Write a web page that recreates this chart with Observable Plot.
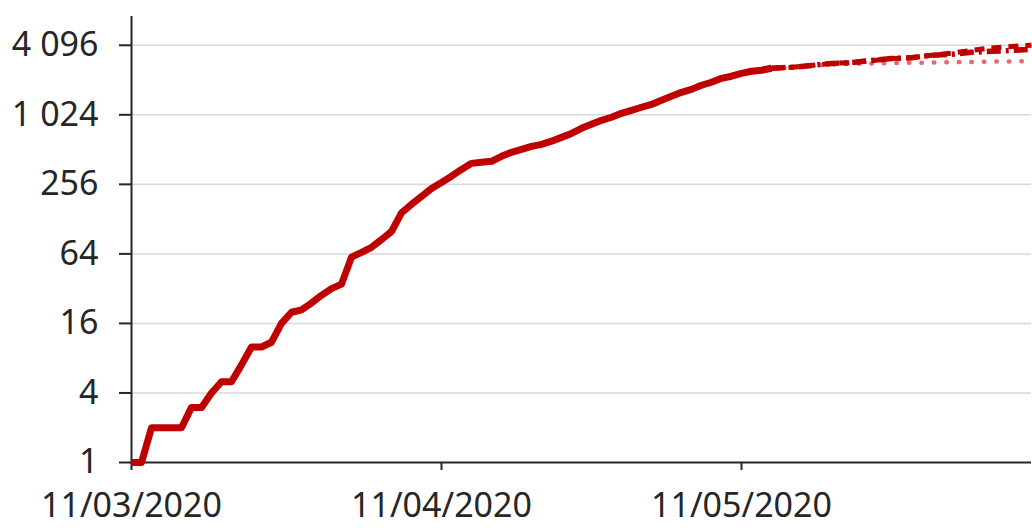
<!DOCTYPE html>
<html>
<head>
<meta charset="utf-8">
<script src="https://cdn.jsdelivr.net/npm/d3@7"></script>
<script src="https://cdn.jsdelivr.net/npm/@observablehq/plot@0.6"></script>
<style>
  html, body { margin: 0; padding: 0; background: #fff; }
  #chart { width: 1032px; height: 530px; }
</style>
</head>
<body>
<div id="chart"></div>
<script>
// ---- data ----
const startDate = "2020-03-11";
const endDate = "2020-06-09";
// observed cumulative values, one per day starting at startDate
const observed = [1, 1, 2, 2, 2, 2, 3, 3, 4, 5, 5, 7, 10, 10, 11, 16, 20, 21, 24, 28,
  32, 35, 60, 66, 73, 85, 100, 145, 172, 201, 236, 266, 301, 345, 389, 397, 405, 448, 485, 515,
  545, 568, 605, 653, 707, 782, 848, 917, 975, 1055, 1120, 1190, 1260, 1370, 1480, 1605, 1700, 1845, 1960, 2120,
  2210, 2340, 2440, 2490, 2590];
// projections: day offsets from startDate
const projDays = [64, 66, 68, 70, 72, 74, 76, 78, 80, 82, 84, 86, 88, 90];
const projMid  = [2590, 2640, 2740, 2850, 2900, 3020, 3140, 3200, 3360, 3420, 3560, 3630, 3700, 3780];
const projHigh = [2590, 2640, 2740, 2850, 2900, 3020, 3140, 3200, 3360, 3500, 3700, 3880, 4000, 4100];
const projLow  = [2590, 2640, 2740, 2790, 2830, 2850, 2870, 2890, 2900, 2920, 2940, 2960, 2970, 2990];
// axis ticks
const xTicks = ["2020-03-11", "2020-04-11", "2020-05-11"];
const yTicks = [1, 4, 16, 64, 256, 1024, 4096];

// ---- build ----
const parse = d3.utcParse("%Y-%m-%d");
const t0 = parse(startDate);
const obsData = observed.map((v, i) => ({date: d3.utcDay.offset(t0, i), value: v}));
const mk = (arr) => projDays.map((d, i) => ({date: d3.utcDay.offset(t0, d), value: arr[i]}));
const locale = d3.formatLocale({decimal: ",", thousands: "\u00a0", grouping: [3], currency: ["", " €"]});
const yFmt = locale.format(",");
const xFmt = d3.utcFormat("%d/%m/%Y");
const font = "Noto Sans";
const red = "#c00000";
const axisColor = "#262626";

const chart = Plot.plot({
  width: 1032,
  height: 530,
  marginLeft: 131,
  marginRight: 1,
  marginTop: 10,
  marginBottom: 68,
  style: {fontFamily: font, fontSize: "34px", color: "#262626", background: "#fff"},
  x: {type: "utc", domain: [parse(startDate), parse(endDate)]},
  y: {type: "log", base: 2, domain: [1, 8192]},
  marks: [
    Plot.ruleY(yTicks.slice(1), {stroke: "#d9d9d9", strokeWidth: 1.5}),
    Plot.ruleY([1], {stroke: axisColor, strokeWidth: 2}),
    Plot.ruleX([parse(startDate)], {y1: 1, y2: 8192, insetTop: 2, insetBottom: -6, stroke: axisColor, strokeWidth: 2}),
    Plot.axisY(yTicks, {tickSize: 12, tickPadding: 21, tickFormat: yFmt, stroke: axisColor, strokeWidth: 2,
      fontSize: 34, fontFamily: font, fill: "#262626", label: null}),
    Plot.axisX(xTicks.map(parse), {tickSize: 8, tickPadding: 22, tickFormat: xFmt, stroke: axisColor, strokeWidth: 2,
      fontSize: 34, fontFamily: font, fill: "#262626", label: null}),
    Plot.line(mk(projLow), {x: "date", y: "value", stroke: "#e05050", strokeWidth: 4.5,
      strokeDasharray: "0.5,12", strokeLinecap: "round", strokeOpacity: 0.85}),
    Plot.line(mk(projHigh), {x: "date", y: "value", stroke: red, strokeWidth: 5,
      strokeDasharray: "10,7", strokeLinecap: "butt"}),
    Plot.line(mk(projMid), {x: "date", y: "value", stroke: red, strokeWidth: 5.5,
      strokeDasharray: "14,5,3,5", strokeLinecap: "butt"}),
    Plot.line(obsData, {x: "date", y: "value", stroke: red, strokeWidth: 7, strokeLinejoin: "round", strokeLinecap: "butt"})
  ]
});
document.getElementById("chart").appendChild(chart);
</script>
</body>
</html>
